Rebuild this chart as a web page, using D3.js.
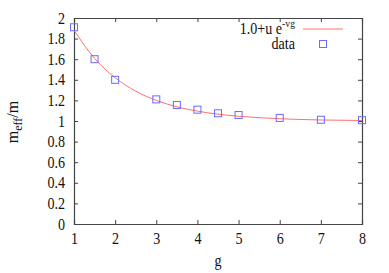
<!DOCTYPE html>
<html>
<head>
<meta charset="utf-8">
<script src="https://cdn.jsdelivr.net/npm/d3@7"></script>
<style>
  body { margin: 0; background: #fff; }
  svg text { font-family: "Liberation Serif", "Times New Roman", serif; fill: #111; }
</style>
</head>
<body>
<svg id="chart" width="389" height="273"></svg>
<script>
// measured points
const dataG = [1, 1.5, 2, 3, 3.5, 4, 4.5, 5, 6, 7, 8];
const dataM = [1.91, 1.60, 1.40, 1.21, 1.155, 1.11, 1.075, 1.058, 1.03, 1.012, 1.008];

// fit curve
const fitG = [1, 1.5, 2, 2.5, 3, 3.5, 4, 4.5, 5, 6, 7, 8];
const fitM = [1.88, 1.608, 1.42, 1.29, 1.20, 1.138, 1.096, 1.066, 1.046, 1.022, 1.010, 1.005];

const xTicks = [1, 2, 3, 4, 5, 6, 7, 8];
const yTicks = [0, 0.2, 0.4, 0.6, 0.8, 1, 1.2, 1.4, 1.6, 1.8, 2];

const serif = '"Liberation Serif", "Times New Roman", serif';
const sx = 0.88; // the reference font is a bit narrow
const svg = d3.select('#chart');
const padL = 74, padR = 362, padT = 18, padB = 224;

const x = d3.scaleLinear().domain([1, 8]).range([padL, padR]);
const y = d3.scaleLinear().domain([0, 2]).range([padB, padT]);

const tickFmt = d => String(+d.toFixed(1));

// bottom axis + labels
const gx = svg.append('g')
    .attr('transform', 'translate(0,' + padB + ')')
    .call(d3.axisBottom(x).tickValues(xTicks).tickSize(-4).tickPadding(9).tickFormat(tickFmt));
// left axis
const gy = svg.append('g')
    .attr('transform', 'translate(' + padL + ',0)')
    .call(d3.axisLeft(y).tickValues(yTicks).tickSize(-4).tickPadding(9).tickFormat(tickFmt));
// top + right mirrored ticks
const gt = svg.append('g')
    .attr('transform', 'translate(0,' + padT + ')')
    .call(d3.axisTop(x).tickValues(xTicks).tickSize(-4).tickFormat(''));
const gr = svg.append('g')
    .attr('transform', 'translate(' + padR + ',0)')
    .call(d3.axisRight(y).tickValues(yTicks).tickSize(-4).tickFormat(''));

[gx, gy, gt, gr].forEach(g => {
    g.attr('font-family', serif);
    g.select('.domain').attr('stroke', '#444').attr('stroke-width', 1.2);
    g.selectAll('.tick line').attr('stroke', '#444');
    g.selectAll('.tick text')
        .style('font-family', serif)
        .style('font-size', '16px')
        .attr('fill', '#111')
        .attr('transform', 'scale(' + sx + ',1)');
});
gy.selectAll('.tick text').attr('x', -9 / sx);

// fit line
const line = d3.line()
    .x((d, i) => x(fitG[i]))
    .y(d => y(d))
    .curve(d3.curveMonotoneX);
svg.append('path')
    .datum(fitM)
    .attr('d', line)
    .attr('fill', 'none')
    .attr('stroke', '#ff7070')
    .attr('stroke-width', 1);

// data squares
const pts = svg.append('g').selectAll('g')
    .data(dataM)
    .join('g')
    .attr('transform', (d, i) => 'translate(' + x(dataG[i]) + ',' + y(d) + ')');
pts.append('rect')
    .attr('x', -3.5).attr('y', -3.5)
    .attr('width', 7).attr('height', 7)
    .attr('fill', 'none')
    .attr('stroke', '#6b6bff')
    .attr('stroke-width', 1);

// legend
const leg = svg.append('g');
const lt = leg.append('text')
    .attr('transform', 'translate(295,34) scale(' + sx + ',1)')
    .attr('text-anchor', 'end')
    .style('font-size', '16px');
lt.append('tspan').text('1.0+u e');
lt.append('tspan').attr('dy', -7).style('font-size', '11px').text('-vg');
leg.append('line')
    .attr('x1', 303).attr('x2', 343).attr('y1', 29).attr('y2', 29)
    .attr('stroke', '#ff7070').attr('stroke-width', 1);
leg.append('text')
    .attr('transform', 'translate(295,49) scale(' + sx + ',1)')
    .attr('text-anchor', 'end')
    .style('font-size', '16px')
    .text('data');
leg.append('rect')
    .attr('x', 319.5).attr('y', 40.5).attr('width', 7).attr('height', 7)
    .attr('fill', 'none').attr('stroke', '#6b6bff');

// axis titles
svg.append('text')
    .attr('transform', 'translate(218,266) scale(' + sx + ',1)')
    .attr('text-anchor', 'middle')
    .style('font-size', '16px')
    .text('g');

const yl = svg.append('text')
    .attr('transform', 'translate(18,122) rotate(-90)')
    .attr('text-anchor', 'middle')
    .style('font-size', '16px');
yl.append('tspan').text('m');
yl.append('tspan').attr('dy', 4).style('font-size', '12px').text('eff');
yl.append('tspan').attr('dy', -4).text('/m');
</script>
</body>
</html>
